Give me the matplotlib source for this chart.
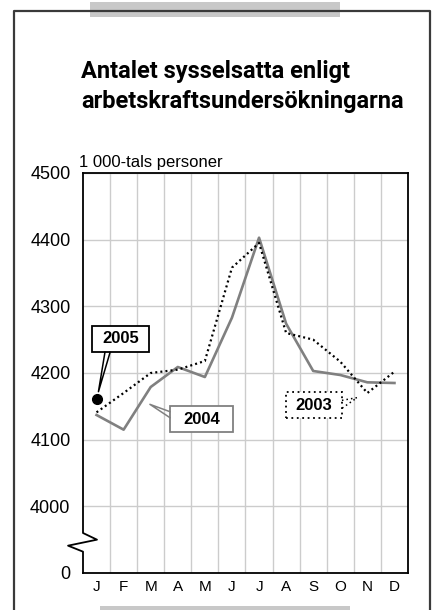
import matplotlib.pyplot as plt
from matplotlib.lines import Line2D
from matplotlib.patches import Rectangle

months = ['J', 'F', 'M', 'A', 'M', 'J', 'J', 'A', 'S', 'O', 'N', 'D']
y2003 = [4141, 4170, 4200, 4205, 4218, 4358, 4395, 4260, 4250, 4217, 4170, 4202]
y2004 = [4137, 4115, 4179, 4209, 4194, 4283, 4403, 4274, 4203, 4197, 4186, 4185]
y2005 = [4161]
yticks = [3900, 4000, 4100, 4200, 4300, 4400, 4500]
ytick_labels = ['0', '4000', '4100', '4200', '4300', '4400', '4500']

W, H = 435, 610
plt.rcParams['font.family'] = ['Liberation Sans', 'DejaVu Sans']


def px(x, y):
    return x / W, 1 - y / H


fig = plt.figure(figsize=(W / 100, H / 100), dpi=100)

# outer frame, open at the bottom
frame = '#3a3a3a'
xs, ys = zip(px(14, 612), px(14, 11), px(430, 11), px(430, 612))
fig.add_artist(Line2D(xs, ys, color=frame, lw=1.6))
(x0, y0), (x1, y1) = px(90, 17), px(340, 2)
fig.add_artist(Rectangle((x0, y0), x1 - x0, y1 - y0, color='#c8c8c8', lw=0))
(x0, y0), (x1, y1) = px(100, 610), px(350, 606)
fig.add_artist(Rectangle((x0, y0), x1 - x0, y1 - y0, color='#c8c8c8', lw=0))

title_font = ['Roboto', 'DejaVu Sans']
fig.text(*px(81, 78), 'Antalet sysselsatta enligt', fontsize=17, fontweight='bold',
         family=title_font, va='baseline')
fig.text(*px(81, 108), 'arbetskraftsundersökningarna', fontsize=17, fontweight='bold',
         family=title_font, va='baseline')
fig.text(*px(79, 167), '1 000-tals personer', fontsize=12, va='baseline')

ax = fig.add_axes([83 / W, 37 / H, 325 / W, 400 / H])
x = [i + 0.5 for i in range(12)]
ax.set_xlim(0, 12)
ax.set_ylim(3900, 4500)
ax.set_xticks(x)
ax.set_xticklabels(months, fontsize=11)
ax.set_yticks(yticks)
ax.set_yticklabels(ytick_labels, fontsize=13)
ax.tick_params(length=0)
ax.tick_params(axis='y', pad=9)
ax.tick_params(axis='x', pad=5)
for v in range(1, 12):
    ax.axvline(v, color='#cccccc', lw=1, zorder=0)
for v in yticks[1:]:
    ax.axhline(v, color='#cccccc', lw=1, zorder=0)
for s in ax.spines.values():
    s.set_linewidth(1.3)
ax.spines['left'].set_visible(False)

# left axis with break
bx = ax.get_yaxis_transform()
ax.plot([0, 0, 0.043, -0.046, 0, 0], [4500, 3960, 3950, 3941, 3932, 3900],
        color='black', lw=1.3, transform=bx, clip_on=False, zorder=5)

ax.plot(x, y2004, color='#808080', lw=1.9, zorder=3)
ax.plot(x, y2003, color='black', lw=1.6, ls=(0, (0.9, 1.4)), zorder=3)
ax.plot(x[:1], y2005, 'o', color='black', ms=7, zorder=4)


def label(x0, x1, y0, y1, text, color, ls, pointer):
    ax.add_patch(Rectangle((x0, y0), x1 - x0, y1 - y0, facecolor='white',
                           edgecolor=color, lw=1.3, ls=ls, zorder=6))
    ax.text((x0 + x1) / 2, (y0 + y1) / 2, text, ha='center', va='center',
            fontsize=12, fontweight='bold', zorder=7)
    (ax_, ay_), (bx_, by_), (tx, ty) = pointer
    ax.plot([ax_, tx, bx_], [ay_, ty, by_], color=color, lw=1.1, ls=ls, zorder=6)


label(0.33, 2.44, 4231, 4271, '2005', 'black', '-',
      ((0.81, 4231), (1.0, 4231), (0.57, 4172)))
label(3.21, 5.54, 4111, 4150, '2004', '#808080', '-',
      ((3.21, 4142), (3.21, 4133), (2.47, 4153)))
label(7.50, 9.56, 4132, 4171, '2003', 'black', (0, (1, 2)),
      ((9.56, 4159), (9.56, 4147), (10.12, 4163)))

fig.savefig('out.png', dpi=100)
